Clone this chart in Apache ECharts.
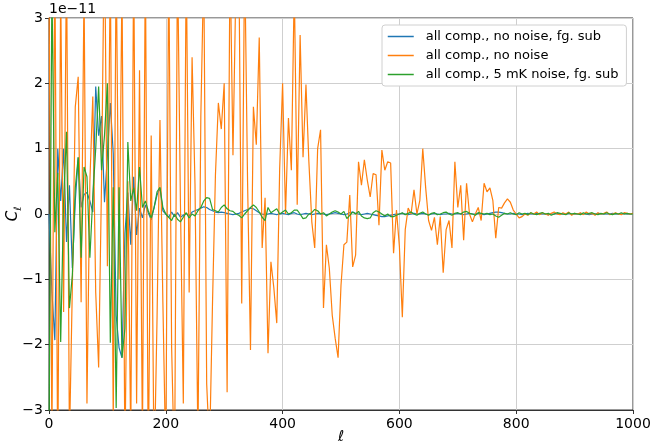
<!DOCTYPE html>
<html>
<head>
<meta charset="utf-8">
<script src="https://cdn.jsdelivr.net/npm/echarts@6/dist/echarts.min.js"></script>
<style>
  html, body { margin: 0; padding: 0; background: #fff; }
  #chart { width: 651px; height: 446px; }
</style>
</head>
<body>
<div id="chart"></div>
<script>
// multipole grid, values in units of 1e-11
const ellStep = 5;
const ellMax = 1000;
const xTicks = [0, 200, 400, 600, 800, 1000];
const yTicks = [-3, -2, -1, 0, 1, 2, 3];

const fgSubNoNoise = [
  0.0, -1.2, -1.93, 1.0, 0.2, 1.0, -0.43, 0.44, -0.83, 0.2,
  0.86, 0.1, 0.3, 0.33, 0.2, 0.03, 1.95, 1.2, 1.5, 0.18,
  0.9, 1.7, 0.93, -1.55, -2.05, -2.2, -0.3, 0.33, -0.47, 0.57,
  -0.32, 0.09, -0.06, 0.14, 0.02, -0.09, 0.1, 0.29, 0.4, 0.05,
  0.0, -0.05, 0.03, -0.04, 0.02, -0.05, -0.02, 0.01, -0.03, 0.03,
  0.05, 0.07, 0.09, 0.11, 0.1, 0.07, 0.05, 0.03, 0.02, 0.03,
  0.02, 0.01, 0.0, -0.01, 0.0, 0.01, 0.03, 0.05, 0.07, 0.09,
  0.08, 0.05, 0.02, 0.0, -0.01, 0.0, 0.01, 0.0, -0.01, 0.0,
  0.01, 0.0, -0.01, 0.01, 0.02, 0.0, -0.01, 0.0, 0.01, 0.0,
  -0.01, 0.0, 0.01, 0.0, 0.0, -0.01, 0.0, 0.01, 0.02, 0.01,
  0.0, -0.01, 0.0, 0.02, 0.03, 0.01, 0.0, -0.01, 0.0, 0.01,
  0.0, -0.01, -0.02, -0.03, -0.04, -0.04, -0.03, -0.02, -0.01, 0.0,
  0.0, 0.01, 0.0, -0.01, 0.0, 0.01, 0.0, 0.0, 0.01, 0.0,
  -0.01, 0.0, 0.01, 0.0, -0.01, 0.0, 0.0, 0.01, 0.0, 0.0,
  0.01, 0.0, -0.01, 0.0, 0.01, 0.0, 0.0, 0.01, 0.0, -0.01,
  0.0, 0.01, 0.02, 0.03, 0.03, 0.02, 0.01, 0.0, 0.0, 0.01,
  0.0, 0.0, -0.01, 0.0, 0.01, 0.0, 0.0, 0.01, 0.0, 0.0,
  0.0, -0.01, 0.0, 0.0, 0.01, 0.0, 0.0, 0.0, 0.01, 0.0,
  0.0, 0.0, 0.01, 0.0, 0.0, -0.01, 0.0, 0.0, 0.01, 0.0,
  0.0, 0.0, 0.0, 0.01, 0.0, 0.0, 0.0, 0.01, 0.0, 0.0,
  0.0
];

const noNoise = [
  3.5, -3.5, 4, -4, 3.5, -1.5, 4, -3.5, -1.1, 1.64,
  2.1, -1.35, 3.5, -2.9, 0.5, 1.8, -1.2, -2.35, 0.5, 4.5,
  -0.8, 3.8, -3.2, 4, -1.0, 3.6, -3.8, 0.5, -3.5, 4,
  -2.9, 2.2, -3.5, 4, -4, 1.2, -4, -1.6, 1.44, -1.35,
  -3.8, 4, -2.05, -4, 4, 0.2, -2.9, 4, -1.2, 2.4,
  0.45, -3.5, 1.5, 3.8, -2.6, -3.6, -1.35, 0.6, 1.7, 1.3,
  2.0, -2.73, 4, 0.9, 3.5, 4, -1.37, 4, 0.5, -2.08,
  1.64, 1.06, 2.7, -0.52, 0.25, -2.13, -0.73, -1.13, -1.67, 0.7,
  2.0, 0.0, 1.47, 0.67, 3.5, 0.14, 2.74, 0.87, 1.98, 0.8,
  -0.12, -0.52, 1.0, 1.29, -1.44, -0.47, -0.83, -1.55, -1.9, -2.2,
  -1.09, -0.47, -0.43, 0.29, -0.81, -0.63, 0.8, 0.44, 0.83, 0.52,
  0.26, 0.62, 0.6, -0.17, 0.98, 0.67, 0.8, 0.78, -0.6, 0.06,
  -0.5, -1.58, -0.24, 0.09, 0.0, 0.37, 0.0, 0.21, 1.0, 0.4,
  -0.1, -0.25, -0.05, -0.47, -0.04, -0.9, -0.24, -0.1, -0.52, 0.8,
  0.1, 0.44, -0.4, 0.47, 0.0, -0.12, 0.0, 0.1, -0.1, 0.47,
  0.34, 0.4, 0.21, -0.37, 0.1, 0.09, 0.17, 0.23, 0.18, 0.06,
  0.0, -0.06, -0.04, 0.0, -0.02, 0.02, 0.0, 0.03, -0.01, 0.02,
  0.0, -0.02, 0.01, 0.03, 0.0, -0.01, 0.02, 0.0, 0.03, -0.02,
  0.01, 0.0, 0.02, -0.01, 0.03, 0.0, 0.01, -0.02, 0.02, 0.0,
  0.01, 0.03, -0.01, 0.0, 0.02, 0.0, -0.01, 0.02, 0.01, 0.0,
  0.01
];

const fgSub5mK = [
  -3.5, 3.5, -0.28, 0.63, -1.96, 0.2, 1.26, -1.44, -0.93, 0.4,
  0.87, -0.67, 0.72, 0.57, -0.67, 0.26, 1.0, 1.95, 0.67, 1.2,
  2.0, -1.97, 0.41, -2.97, 0.41, -2.2, -1.75, 1.1, 0.2, 0.4,
  0.05, 0.72, 0.1, 0.2, 0.05, -0.06, 0.1, 0.34, 0.41, 0.1,
  0.0, -0.05, -0.1, 0.0, -0.08, -0.12, -0.05, 0.02, -0.06, 0.0,
  -0.03, 0.05, 0.1, 0.2, 0.25, 0.24, 0.07, 0.05, 0.03, 0.1,
  0.14, 0.08, 0.05, 0.04, 0.0, -0.02, -0.06, 0.0, 0.05, 0.1,
  0.14, 0.1, 0.03, -0.05, -0.1, 0.1, 0.02, 0.05, 0.08, 0.0,
  0.03, 0.06, 0.0, 0.02, 0.06, 0.06, 0.0, -0.07, -0.06, 0.0,
  0.02, 0.07, 0.05, 0.0, 0.02, -0.03, 0.0, 0.03, 0.05, 0.03,
  0.0, 0.04, -0.07, -0.02, 0.03, 0.0, 0.04, -0.03, -0.06, -0.07,
  -0.06, 0.02, 0.05, 0.03, 0.0, -0.03, 0.0, -0.04, -0.04, -0.02,
  0.0, 0.02, -0.01, 0.01, 0.03, 0.0, -0.02, 0.01, 0.03, 0.0,
  -0.02, 0.01, 0.02, -0.01, 0.0, 0.02, 0.03, 0.0, -0.02, 0.01,
  0.02, 0.0, 0.03, 0.04, 0.01, 0.0, -0.02, 0.02, 0.01, 0.0,
  0.01, -0.01, 0.0, -0.03, -0.05, -0.02, 0.01, 0.0, 0.02, 0.0,
  -0.01, 0.02, 0.0, 0.01, -0.01, 0.02, 0.0, -0.01, 0.01, 0.02,
  0.0, 0.01, -0.02, 0.0, 0.02, 0.01, 0.0, -0.01, 0.02, 0.0,
  0.01, 0.0, -0.01, 0.02, 0.0, 0.01, 0.02, 0.0, -0.01, 0.01,
  0.0, 0.02, 0.0, -0.01, 0.01, 0.0, 0.02, 0.0, 0.01, 0.0,
  0.0
];

const seriesNames = [
  'all comp., no noise, fg. sub',
  'all comp., no noise',
  'all comp., 5 mK noise, fg. sub'
];
const seriesColors = ['#1f77b4', '#ff7f0e', '#2ca02c'];
const seriesData = [fgSubNoNoise, noNoise, fgSub5mK];

const ells = [];
for (let l = 0; l <= ellMax; l += ellStep) ells.push(l);

const font = 'DejaVu Sans';
const minus = v => (v < 0 ? '\u2212' + Math.abs(v) : String(v));

const chart = echarts.init(document.getElementById('chart'), null, { renderer: 'canvas' });

chart.setOption({
  animation: false,
  backgroundColor: '#fff',
  grid: {
    left: 49, right: 18, top: 18, bottom: 36,
    containLabel: false, outerBoundsMode: 'none',
    show: true, borderColor: '#333', borderWidth: 1, backgroundColor: 'transparent'
  },
  legend: {
    orient: 'vertical',
    left: 382, top: 25,
    padding: [5, 8, 5, 5],
    itemWidth: 26, itemHeight: 14, itemGap: 6,
    backgroundColor: '#fff',
    borderColor: '#d0d0d0', borderWidth: 1, borderRadius: 3,
    itemStyle: { opacity: 0 },
    lineStyle: { width: 1.5 },
    textStyle: { fontFamily: font, fontSize: 13, color: '#000', padding: [0, 0, 0, 7] },
    data: seriesNames
  },
  xAxis: {
    type: 'value', min: xTicks[0], max: xTicks[xTicks.length - 1], interval: 200,
    axisLine: { show: true, onZero: false, lineStyle: { color: '#333', width: 1 } },
    axisTick: { show: true, length: 4, lineStyle: { color: '#333' } },
    axisLabel: { fontFamily: font, fontSize: 14, color: '#000', margin: 7, formatter: minus },
    splitLine: { show: true, lineStyle: { color: '#cfcfcf', width: 1 } }
  },
  yAxis: {
    type: 'value', min: yTicks[0], max: yTicks[yTicks.length - 1], interval: 1,
    axisLine: { show: true, onZero: false, lineStyle: { color: '#333', width: 1 } },
    axisTick: { show: true, length: 4, lineStyle: { color: '#333' } },
    axisLabel: { fontFamily: font, fontSize: 14, color: '#000', margin: 6, formatter: minus },
    splitLine: { show: true, lineStyle: { color: '#cfcfcf', width: 1 } }
  },
  graphic: [
    {
      type: 'text', left: 49, top: 2,
      style: { text: '1e\u221211', font: '14px "DejaVu Sans"', fill: '#000' }
    },
    {
      type: 'text', x: 341, y: 437,
      style: { text: 'ℓ', font: 'italic 15px "DejaVu Sans"', fill: '#000', align: 'center', verticalAlign: 'middle' }
    },
    {
      type: 'text', x: 13, y: 214, rotation: Math.PI / 2,
      style: {
        text: '{c|C}{s|ℓ}', align: 'center', verticalAlign: 'middle',
        rich: {
          c: { fontFamily: font, fontSize: 15, fontStyle: 'italic', fill: '#000', verticalAlign: 'bottom' },
          s: { fontFamily: font, fontSize: 10, fontStyle: 'italic', fill: '#000', verticalAlign: 'bottom', padding: [0, 0, -3, 0] }
        }
      }
    }
  ],
  series: seriesData.map((vals, k) => ({
    name: seriesNames[k],
    type: 'line',
    symbol: 'none',
    clip: true,
    color: seriesColors[k],
    lineStyle: { width: 1.2, color: seriesColors[k] },
    data: vals.map((v, i) => [ells[i], v])
  }))
});
</script>
</body>
</html>
